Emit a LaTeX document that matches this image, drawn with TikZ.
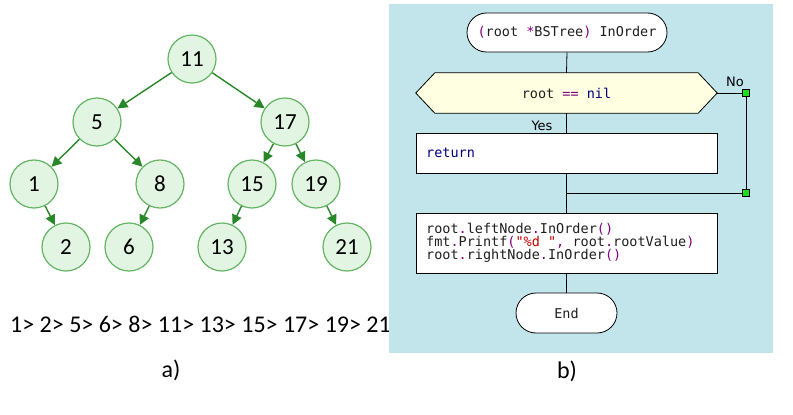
\documentclass[tikz,border=0pt]{standalone}
\usepackage{fontspec}
\setmainfont{Carlito}
\newfontfamily\codefont{DejaVu Sans Mono}
\newfontfamily\uifont{DejaVu Sans}
\usetikzlibrary{arrows.meta,shapes.misc}

\definecolor{treefill}{RGB}{226,245,226}
\definecolor{treeline}{RGB}{100,180,100}
\definecolor{treearrow}{RGB}{40,135,40}
\definecolor{panelblue}{RGB}{194,229,236}
\definecolor{decfill}{RGB}{255,255,226}
\definecolor{kwpurple}{RGB}{128,0,128}
\definecolor{kwnavy}{RGB}{0,0,128}
\definecolor{strred}{RGB}{200,0,0}
\definecolor{codetext}{RGB}{30,30,30}
\definecolor{markgreen}{RGB}{30,220,30}

\tikzset{
  tnode/.style={circle, draw=treeline, line width=1.2pt, fill=treefill,
    minimum size=48pt, inner sep=0pt, font=\fontsize{23}{26}\selectfont},
  tarrow/.style={draw=treearrow, line width=1.4pt,
    -{Triangle[length=10pt,width=10pt]}, treearrow},
  term/.style={rounded rectangle, draw=black, line width=0.8pt, fill=white,
    inner sep=0pt, font=\codefont\fontsize{13.5}{13}\selectfont, text=codetext},
  stepbox/.style={rectangle, draw=black, line width=0.8pt, fill=white, inner sep=0pt},
  code/.style={inner sep=0pt, font=\codefont\fontsize{13.5}{13}\selectfont,
    text=codetext, align=left},
  flow/.style={draw=black, line width=0.8pt},
  marker/.style={rectangle, draw=black, line width=0.5pt, fill=markgreen,
    minimum size=7pt, inner sep=0pt},
  ui/.style={inner sep=0pt, font=\uifont\fontsize{13}{15}\selectfont, text=black},
  caption/.style={inner sep=0pt, font=\fontsize{24}{28}\selectfont}
}
\newcommand{\pp}[1]{\textcolor{kwpurple}{#1}}
\newcommand{\nv}[1]{\textcolor{kwnavy}{#1}}
\newcommand{\rd}[1]{\textcolor{strred}{#1}}

\begin{document}
\begin{tikzpicture}[x=1pt, y=-1pt]
  \useasboundingbox (0,0) rectangle (793,415);

  % ---------- a) binary search tree ----------
  \node[tnode] (n11) at (192,59)  {11};
  \node[tnode] (n5)  at (97,122)  {5};
  \node[tnode] (n17) at (285,122) {17};
  \node[tnode] (n1)  at (34,184)  {1};
  \node[tnode] (n8)  at (160,184) {8};
  \node[tnode] (n15) at (252,184) {15};
  \node[tnode] (n19) at (316,184) {19};
  \node[tnode] (n2)  at (66,247)  {2};
  \node[tnode] (n6)  at (129,247) {6};
  \node[tnode] (n13) at (222,247) {13};
  \node[tnode] (n21) at (347,247) {21};

  \draw[tarrow] (n11) -- (n5);
  \draw[tarrow] (n11) -- (n17);
  \draw[tarrow] (n5)  -- (n1);
  \draw[tarrow] (n5)  -- (n8);
  \draw[tarrow] (n17) -- (n15);
  \draw[tarrow] (n17) -- (n19);
  \draw[tarrow] (n1)  -- (n2);
  \draw[tarrow] (n8)  -- (n6);
  \draw[tarrow] (n15) -- (n13);
  \draw[tarrow] (n19) -- (n21);

  \node[caption, anchor=base west] (seq) at (10,332)
    {1> 2> 5> 6> 8> 11> 13> 15> 17> 19> 21};
  \node[caption, anchor=base] (capa) at (171,377) {a)};

  % ---------- b) flowchart of InOrder ----------
  \fill[panelblue] (389,4) rectangle (773,353);

  \node[term, minimum width=200pt, minimum height=39pt] (start) at (567,32.5)
    {\pp{(}root \pp{*}BSTree\pp{)} InOrder};

  \node[minimum width=301pt, minimum height=40pt, inner sep=0pt] (dec) at (566.5,93) {};
  \draw[flow, fill=decfill] (dec.west) -- ([xshift=19pt]dec.north west)
    -- ([xshift=-19pt]dec.north east) -- (dec.east)
    -- ([xshift=-19pt]dec.south east) -- ([xshift=19pt]dec.south west) -- cycle;
  \node[code] (dectext) at (dec.center) {root \pp{==} \nv{nil}};

  \node[stepbox, minimum width=301pt, minimum height=40pt] (ret) at (566.5,153) {};
  \node[code, anchor=west] (rettext) at (426,153) {\nv{return}};

  \node[stepbox, minimum width=301pt, minimum height=60pt] (body) at (566.5,243) {};
  \node[code, anchor=west] (bodytext) at (426,243)
    {root\pp{.}leftNode\pp{.}InOrder\pp{()}\\
     fmt\pp{.}Printf\pp{(}\rd{"\%d "}\pp{,} root\pp{.}rootValue\pp{)}\\
     root\pp{.}rightNode\pp{.}InOrder\pp{()}};

  \node[term, minimum width=101pt, minimum height=40pt] (stop) at (566.5,313) {End};

  \node[marker] (m1) at (746,93) {};
  \node[marker] (m2) at (746,193) {};
  \coordinate (join) at (566.5,193);

  \draw[flow] (start.south) -- (dec.north);
  \draw[flow] (dec.south) -- (ret.north);
  \draw[flow] (ret.south) -- (body.north);
  \draw[flow] (body.south) -- (stop.north);
  \draw[flow] (dec.east) -- (m1.west);
  \draw[flow] (m1.south) -- (m2.north);
  \draw[flow] (m2.west) -- (join);

  \node[ui, anchor=base] (nolabel) at (735,86) {No};
  \node[ui, anchor=base] (yeslabel) at (542,130) {Yes};

  \node[caption, anchor=base] (capb) at (567,378) {b)};
\end{tikzpicture}
\end{document}
